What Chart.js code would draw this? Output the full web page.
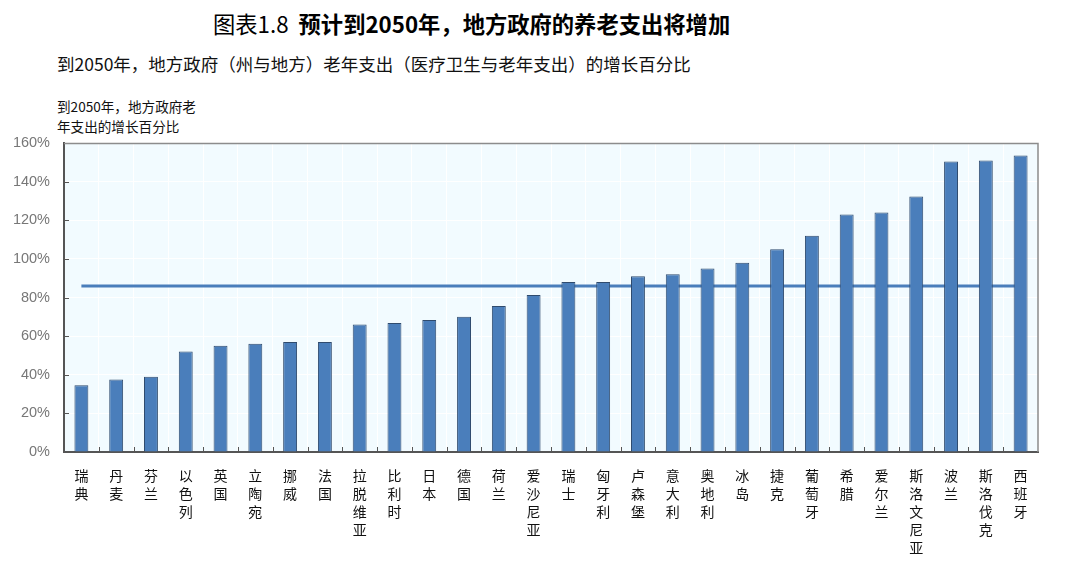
<!DOCTYPE html>
<html>
<head>
<meta charset="utf-8">
<script src="https://cdn.jsdelivr.net/npm/chart.js@4.4.0/dist/chart.umd.min.js"></script>
<style>
  body { margin: 0; background: #fff; font-family: "Noto Sans CJK SC", "Liberation Sans", sans-serif; }
  #wrap { position: relative; width: 1080px; height: 565px; }
  #title { position: absolute; left: 213px; top: 7px; font-size: 22.3px; color: #000; white-space: nowrap; }
  #title b { font-weight: 700; }
  #subtitle { position: absolute; left: 57px; top: 51px; font-size: 17.5px; color: #111; white-space: nowrap; }
  #ylabel { position: absolute; left: 57px; top: 96px; font-size: 13.6px; line-height: 20px; color: #111; }
  canvas { position: absolute; left: 0; top: 0; }
</style>
</head>
<body>
<div id="wrap">
  <div id="title">图表1.8&nbsp; <b>预计到2050年，地方政府的养老支出将增加</b></div>
  <div id="subtitle">到2050年，地方政府（州与地方）老年支出（医疗卫生与老年支出）的增长百分比</div>
  <div id="ylabel">到2050年，地方政府老<br>年支出的增长百分比</div>
  <canvas id="growthChart" width="1080" height="565"></canvas>
</div>
<script>
// 国家（按增长幅度排序）
const countries = [
    '瑞典', '丹麦', '芬兰', '以色列', '英国', '立陶宛', '挪威', '法国', '拉脱维亚', '比利时',
    '日本', '德国', '荷兰', '爱沙尼亚', '瑞士', '匈牙利', '卢森堡', '意大利', '奥地利', '冰岛',
    '捷克', '葡萄牙', '希腊', '爱尔兰', '斯洛文尼亚', '波兰', '斯洛伐克', '西班牙'
];

// 到2050年增长百分比 (%)
const growthPct = [
    34.5, 37.5, 39, 52, 55, 56, 57, 57, 66, 66.8,
    68.4, 70, 75.6, 81.3, 88, 88, 91, 92, 95, 98,
    105, 112, 123, 124, 132.3, 150.4, 151, 153.5
];

// 平均水平
const avgPct = 86;
const yTicks = [0, 20, 40, 60, 80, 100, 120, 140, 160];

const BAR_COLOR = '#4A7EBB';
const BAR_BORDER = '#2F4B6E';

// 绘图区底色 + 上/右边框 + 向内的刻度
const plotDecor = {
    id: 'plotDecor',
    beforeDraw(chart) {
        const { ctx, chartArea: a } = chart;
        ctx.save();
        ctx.fillStyle = '#F2FBFF';
        ctx.fillRect(a.left, a.top, a.right - a.left, a.bottom - a.top);
        ctx.restore();
    },
    afterDraw(chart) {
        const { ctx, chartArea: a, scales } = chart;
        ctx.save();
        ctx.strokeStyle = '#8C8C8C';
        ctx.lineWidth = 1.5;
        ctx.beginPath();
        ctx.moveTo(a.left, a.top + 0.5);
        ctx.lineTo(a.right, a.top + 0.5);
        ctx.lineTo(a.right, a.bottom);
        ctx.stroke();

        ctx.strokeStyle = '#555';
        ctx.lineWidth = 1;
        ctx.beginPath();
        const n = countries.length;
        for (let i = 1; i < n; i++) {
            const x = Math.round((scales.x.getPixelForValue(i - 1) + scales.x.getPixelForValue(i)) / 2) + 0.5;
            ctx.moveTo(x, a.bottom);
            ctx.lineTo(x, a.bottom - 5);
        }
        yTicks.forEach(v => {
            if (v === 0 || v === 160) return;
            const y = Math.round(scales.y.getPixelForValue(v)) + 0.5;
            ctx.moveTo(a.left, y);
            ctx.lineTo(a.left + 5, y);
        });
        ctx.stroke();
        ctx.restore();
    }
};

new Chart(document.getElementById('growthChart').getContext('2d'), {
    data: {
        labels: countries.map(c => c.split('')),
        datasets: [
            {
                type: 'bar',
                data: growthPct,
                backgroundColor: BAR_COLOR,
                borderColor: BAR_BORDER,
                borderWidth: 1,
                categoryPercentage: 0.8,
                barPercentage: 0.5,
                order: 1
            },
            {
                type: 'line',
                data: countries.map(() => avgPct),
                borderColor: '#4A7EBB',
                borderWidth: 3,
                pointRadius: 0,
                fill: false,
                order: 2
            }
        ]
    },
    options: {
        responsive: false,
        animation: false,
        layout: { padding: { top: 143, right: 42, left: 0, bottom: 0 } },
        plugins: {
            legend: { display: false },
            tooltip: { enabled: false }
        },
        scales: {
            x: {
                offset: true,
                grid: { color: '#FFFFFF', lineWidth: 1, drawTicks: false, offset: true },
                border: { color: '#555', width: 2 },
                ticks: {
                    color: '#111',
                    padding: 15,
                    maxRotation: 0,
                    autoSkip: false,
                    font: { family: '"Noto Sans CJK SC"', size: 14, lineHeight: '18px' }
                },
                afterFit(scale) { scale.height = 113; }
            },
            y: {
                min: 0,
                max: 160,
                grid: { color: '#FFFFFF', lineWidth: 1, drawTicks: false },
                border: { color: '#555', width: 2 },
                ticks: {
                    stepSize: 20,
                    color: '#777',
                    padding: 14,
                    font: { family: '"Liberation Sans", Arial', size: 14.5 },
                    callback: v => v + '%'
                },
                afterFit(scale) { scale.width = 64; }
            }
        }
    },
    plugins: [plotDecor]
});
</script>
</body>
</html>
